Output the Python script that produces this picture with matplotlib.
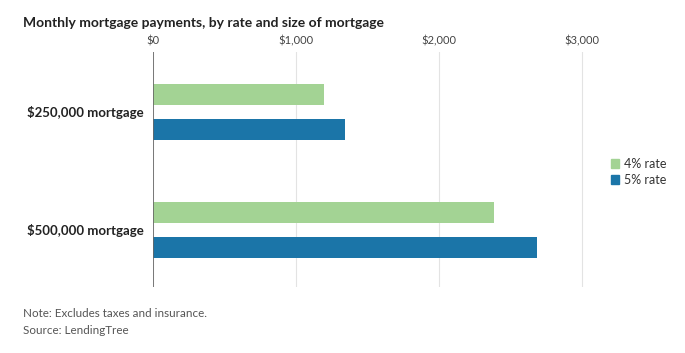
import matplotlib.pyplot as plt
from matplotlib.patches import Patch
import numpy as np

# Data
categories = ['$250,000 mortgage', '$500,000 mortgage']
rate_labels = ['4% rate', '5% rate']
payments_4 = [1194, 2387]
payments_5 = [1342, 2684]
xticks = [0, 1000, 2000, 3000]
xtick_labels = ['$0', '$1,000', '$2,000', '$3,000']

green = '#a3d394'
blue = '#1b75a8'

plt.rcParams['font.family'] = ['Lato', 'DejaVu Sans']

fig = plt.figure(figsize=(6.85, 3.53), dpi=100)
ax = fig.add_axes([0.2234, 0.187, 0.647, 0.666])

y = np.arange(len(categories))
h = 0.178
off = 0.15
ax.barh(y - off, payments_4, height=h, color=green, zorder=3)
ax.barh(y + off, payments_5, height=h, color=blue, zorder=3)

ax.set_xlim(0, 3100)
ax.set_ylim(1.483, -0.508)

ax.set_xticks(xticks)
ax.set_xticklabels(xtick_labels)
ax.xaxis.tick_top()
ax.tick_params(axis='x', length=0, pad=4, labelsize=8, labelcolor='#444444')
ax.set_yticks(y)
ax.set_yticklabels(categories, fontweight='bold', fontsize=9.5, color='#222222')
ax.tick_params(axis='y', length=0, pad=7)

ax.grid(axis='x', color='#e3e3e3', linewidth=0.8, zorder=0)
ax.axvline(0, color='#666666', linewidth=1.2, zorder=4)
for s in ax.spines.values():
    s.set_visible(False)

handles = [Patch(color=green), Patch(color=blue)]
fig.legend(handles, rate_labels, loc='center left', bbox_to_anchor=(0.875, 0.513),
           frameon=False, fontsize=9, handlelength=0.7, handleheight=0.7,
           handletextpad=0.4, labelspacing=0.3, labelcolor='#333333')

fig.text(0.034, 0.935, 'Monthly mortgage payments, by rate and size of mortgage',
         fontsize=10, fontweight='bold', color='#222222', va='center')
fig.text(0.034, 0.113, 'Note: Excludes taxes and insurance.', fontsize=8.4,
         color='#555555', va='center')
fig.text(0.034, 0.065, 'Source: LendingTree', fontsize=8.4, color='#555555', va='center')

fig.savefig('out.png', dpi=100)
